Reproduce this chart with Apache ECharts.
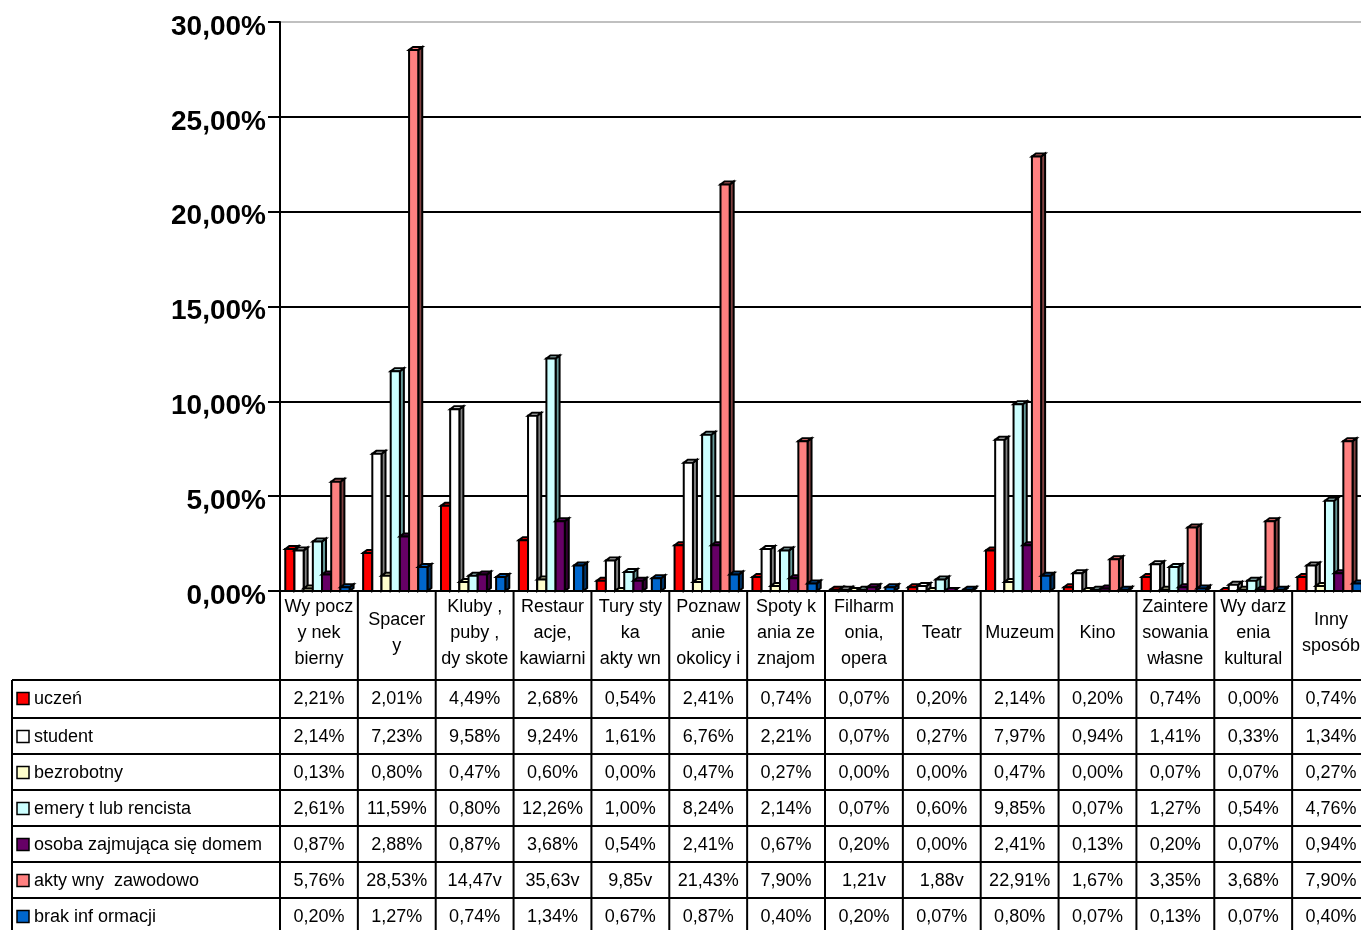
<!DOCTYPE html>
<html>
<head>
<meta charset="utf-8">
<script src="https://cdn.jsdelivr.net/npm/echarts@6/dist/echarts.min.js"></script>
<style>
html,body{margin:0;padding:0;background:#fff;overflow:hidden;width:1361px;height:930px;}
#chart{width:1372px;height:930px;}
</style>
</head>
<body>
<div id="chart"></div>
<script>
const categories = ['Wy pocz\ny nek\nbierny', 'Spacer\ny', 'Kluby ,\npuby ,\ndy skote', 'Restaur\nacje,\nkawiarni', 'Tury sty\nka\nakty wn', 'Poznaw\nanie\nokolicy i', 'Spoty k\nania ze\nznajom', 'Filharm\nonia,\nopera', 'Teatr', 'Muzeum', 'Kino', 'Zaintere\nsowania\nwłasne', 'Wy darz\nenia\nkultural', 'Inny\nsposób'];
const seriesNames = ['uczeń', 'student', 'bezrobotny', 'emery t lub rencista', 'osoba zajmująca się domem', 'akty wny  zawodowo', 'brak inf ormacji'];
const uczen      = [2.21, 2.01, 4.49, 2.68, 0.54, 2.41, 0.74, 0.07, 0.20, 2.14, 0.20, 0.74, 0.00, 0.74];
const student    = [2.14, 7.23, 9.58, 9.24, 1.61, 6.76, 2.21, 0.07, 0.27, 7.97, 0.94, 1.41, 0.33, 1.34];
const bezrobotny = [0.13, 0.80, 0.47, 0.60, 0.00, 0.47, 0.27, 0.00, 0.00, 0.47, 0.00, 0.07, 0.07, 0.27];
const emeryt     = [2.61, 11.59, 0.80, 12.26, 1.00, 8.24, 2.14, 0.07, 0.60, 9.85, 0.07, 1.27, 0.54, 4.76];
const osoba      = [0.87, 2.88, 0.87, 3.68, 0.54, 2.41, 0.67, 0.20, 0.00, 2.41, 0.13, 0.20, 0.07, 0.94];
const aktywny    = [5.76, 28.53, 14.47, 35.63, 9.85, 21.43, 7.90, 1.21, 1.88, 22.91, 1.67, 3.35, 3.68, 7.90];
// cells stored as text in the source sheet (shown with "v", not plotted)
const aktywnyIsText = [false, false, true, true, true, false, false, true, true, false, false, false, false, false];
const brak       = [0.20, 1.27, 0.74, 1.34, 0.67, 0.87, 0.40, 0.20, 0.07, 0.80, 0.07, 0.13, 0.07, 0.40];
const yTicks = [0, 5, 10, 15, 20, 25, 30];

const allSeries = [uczen, student, bezrobotny, emeryt, osoba, aktywny, brak];
const textFlags = [null, null, null, null, null, aktywnyIsText, null];
const frontColors = ['#FF0000', '#FFFFFF', '#FFFFCC', '#CCFFFF', '#660066', '#FF8080', '#0066CC'];
const sideColors  = ['#800000', '#808080', '#808066', '#669999', '#330033', '#804040', '#003366'];

function fmt(v){ return v.toFixed(2).replace('.', ','); }

function makeRender(si){
  return function(params, api){
    const v = api.value(1);
    if (v === null || v === undefined || isNaN(v)) return {type:'group', children:[]};
    const idx = api.value(0);
    const c = api.coord([idx, v]);
    const b = api.coord([idx, 0]);
    const cw = api.size([1, 0])[0];
    const s = cw * 0.118;
    const x = c[0] - 3.5 * s - 1.5 + si * s;
    const y = c[1], y0 = b[1];
    const dx = 4, dy = -3;
    const stroke = {stroke:'#000', lineWidth:2, lineJoin:'miter'};
    return {type:'group', children:[
      {type:'polygon', shape:{points:[[x+s,y],[x+s+dx,y+dy],[x+s+dx,y0+dy],[x+s,y0]]}, style:Object.assign({fill:sideColors[si]}, stroke)},
      {type:'polygon', shape:{points:[[x,y],[x+dx,y+dy],[x+s+dx,y+dy],[x+s,y]]}, style:Object.assign({fill:frontColors[si]}, stroke)},
      {type:'rect', shape:{x:x, y:y, width:s, height:y0-y}, style:Object.assign({fill:frontColors[si]}, stroke)}
    ]};
  };
}

const chart = echarts.init(document.getElementById('chart'), null, {renderer:'canvas'});
const series = allSeries.map((arr, si) => ({
  type:'custom',
  name: seriesNames[si],
  renderItem: makeRender(si),
  encode:{x:0, y:1},
  clip:false,
  data: arr.map((v, i) => [i, (textFlags[si] && textFlags[si][i]) ? '-' : v])
}));

chart.setOption({
  animation:false,
  backgroundColor:'#fff',
  grid:{left:280, top:22, width:1090, height:569, containLabel:false},
  xAxis:{type:'category', data:categories, axisLine:{show:false}, axisTick:{show:false}, axisLabel:{show:false}, splitLine:{show:false}},
  yAxis:{type:'value', min:0, max:30, interval:5,
    axisLine:{show:true, lineStyle:{color:'#000', width:2}},
    axisTick:{show:true, length:12, lineStyle:{color:'#000', width:2}},
    axisLabel:{margin:14, formatter: v => '{a|' + fmt(v) + '%}',
      rich:{a:{color:'#000', fontSize:28, fontWeight:'bold', fontFamily:'"Liberation Sans", Arial, sans-serif', padding:[10,0,0,0]}}},
    splitLine:{show:true, lineStyle:{color:['#000','#000','#000','#000','#000','#000','#c0c0c0'], width:2}}
  },
  series: series
});

// data table under the chart
const centers = categories.map((c, i) => chart.convertToPixel({xAxisIndex:0}, i));
const colW = centers[1] - centers[0];
const leftX = centers[0] - colW / 2;
const zeroY = chart.convertToPixel({yAxisIndex:0}, 0);
const rowTops = [680, 718, 754, 790, 826, 862, 898];
const rowH = 36;
const tableLeft = 12;
const W = 1372, H = 930;
const font = {fontSize:18, fontFamily:'"Liberation Sans", Arial, sans-serif', fill:'#000'};
const g = [];
function line(x1,y1,x2,y2){ g.push({type:'line', shape:{x1,y1,x2,y2}, style:{stroke:'#000', lineWidth:2}, z:100}); }

// header row
categories.forEach((c, i) => {
  g.push({type:'text', style:Object.assign({text:c, x:centers[i], y:633, align:'center', verticalAlign:'middle', lineHeight:26}, font), z:101});
});
// vertical lines
for (let k = 0; k <= categories.length; k++) {
  const x = leftX + k * colW;
  line(x, zeroY, x, H);
}
line(tableLeft, rowTops[0], tableLeft, H);
line(leftX, zeroY, W + 20, zeroY);
rowTops.forEach(t => line(tableLeft, t, W + 20, t));

// legend column + values
allSeries.forEach((arr, si) => {
  const cy = rowTops[si] + rowH / 2 + 1;
  g.push({type:'rect', shape:{x:17, y:cy-6.5, width:12, height:12}, style:{fill:frontColors[si], stroke:'#000', lineWidth:1.5}, z:101});
  g.push({type:'text', style:Object.assign({text:seriesNames[si], x:34, y:cy, align:'left', verticalAlign:'middle'}, font), z:101});
  arr.forEach((v, i) => {
    const isText = textFlags[si] && textFlags[si][i];
    g.push({type:'text', style:Object.assign({text: fmt(v) + (isText ? 'v' : '%'), x:centers[i], y:cy, align:'center', verticalAlign:'middle'}, font), z:101});
  });
});

chart.setOption({graphic: g});
</script>
</body>
</html>
